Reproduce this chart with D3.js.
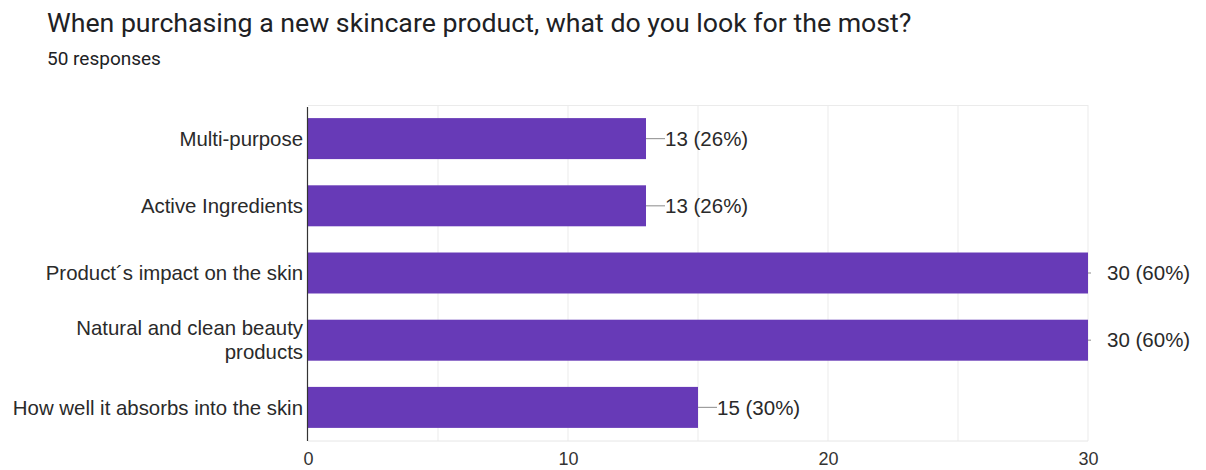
<!DOCTYPE html>
<html><head><meta charset="utf-8">
<script src="https://cdn.jsdelivr.net/npm/d3@7"></script>
<style>body{margin:0;background:#fff;} svg{display:block;}</style>
</head><body>
<script>
const title = "When purchasing a new skincare product, what do you look for the most?";
const subtitle = "50 responses";
const categories = ["Multi-purpose", "Active Ingredients", "Product´s impact on the skin", "Natural and clean beauty products", "How well it absorbs into the skin"];
const categoryLines = [["Multi-purpose"], ["Active Ingredients"], ["Product´s impact on the skin"], ["Natural and clean beauty", "products"], ["How well it absorbs into the skin"]];
const values = [13, 13, 30, 30, 15];
const percents = ["26%", "26%", "60%", "60%", "30%"];
const xTicks = [0, 10, 20, 30];
const gridTicks = [5, 10, 15, 20, 25, 30];

const W = 1206, H = 470;
const m = {left: 308, right: 118, top: 105, bottom: 29};
const svg = d3.select("body").append("svg").attr("width", W).attr("height", H);
const chartFont = "'Liberation Sans', Arial, sans-serif";

svg.append("text").attr("x", 47).attr("y", 32).text(title)
  .attr("font-family", "Roboto, 'Liberation Sans', sans-serif").attr("font-size", 26.7).attr("fill", "#202124");
svg.append("text").attr("x", 47).attr("y", 65).text(subtitle)
  .attr("font-family", "Roboto, 'Liberation Sans', sans-serif").attr("font-size", 19).attr("fill", "#202124");

const x = d3.scaleLinear().domain([0, 30]).range([m.left, W - m.right]);
const y = d3.scaleBand().domain(categories).range([m.top, H - m.bottom]).paddingInner(0.39).paddingOuter(0.195);

const g = svg.append("g");
// grid
g.selectAll("line.grid").data(gridTicks).join("line")
  .attr("x1", d => x(d)).attr("x2", d => x(d))
  .attr("y1", m.top).attr("y2", H - m.bottom)
  .attr("stroke", "#ebebeb").attr("stroke-width", 1);
g.append("line").attr("x1", m.left).attr("x2", x(30)).attr("y1", m.top + 0.5).attr("y2", m.top + 0.5).attr("stroke", "#ebebeb");
g.append("line").attr("x1", m.left).attr("x2", x(30)).attr("y1", H - m.bottom).attr("y2", H - m.bottom).attr("stroke", "#e6e6e6");

// bars
g.selectAll("rect.bar").data(categories).join("rect")
  .attr("x", x(0)).attr("y", d => y(d))
  .attr("width", (d, i) => x(values[i]) - x(0))
  .attr("height", y.bandwidth())
  .attr("fill", "#673ab7");

// axis line
g.append("line").attr("x1", m.left - 0.5).attr("x2", m.left - 0.5)
  .attr("y1", m.top + 2).attr("y2", H - m.bottom).attr("stroke", "#333").attr("stroke-width", 1.2);

// value labels with connectors
categories.forEach((c, i) => {
  const xe = x(values[i]);
  const cy = y(c) + y.bandwidth() / 2;
  const full = values[i] === 30;
  g.append("line").attr("x1", xe).attr("x2", xe + (full ? 3 : 19))
    .attr("y1", cy).attr("y2", cy).attr("stroke", "#9e9e9e").attr("stroke-width", 1.2);
  g.append("text").attr("x", xe + 19).attr("y", cy).attr("dy", "0.35em")
    .text(values[i] + " (" + percents[i] + ")")
    .attr("font-family", chartFont).attr("font-size", 20.5).attr("fill", "#2a2a2a");
});

// category labels
categories.forEach((c, i) => {
  const lines = categoryLines[i];
  const cy = y(c) + y.bandwidth() / 2;
  const lh = 24;
  const t = g.append("text").attr("text-anchor", "end")
    .attr("font-family", chartFont).attr("font-size", 20.4).attr("fill", "#2a2a2a");
  lines.forEach((ln, j) => {
    t.append("tspan").attr("x", m.left - 5)
      .attr("y", cy + (j - (lines.length - 1) / 2) * lh).attr("dy", "0.35em").text(ln);
  });
});

// x tick labels
const xa = svg.append("g").attr("transform", `translate(0,${H - m.bottom})`)
  .call(d3.axisBottom(x).tickValues(xTicks).tickSize(0).tickPadding(11).tickFormat(d3.format("d")));
xa.select(".domain").remove();
xa.selectAll("text").attr("font-family", chartFont).attr("font-size", 18).attr("fill", "#333");
</script>
</body></html>
